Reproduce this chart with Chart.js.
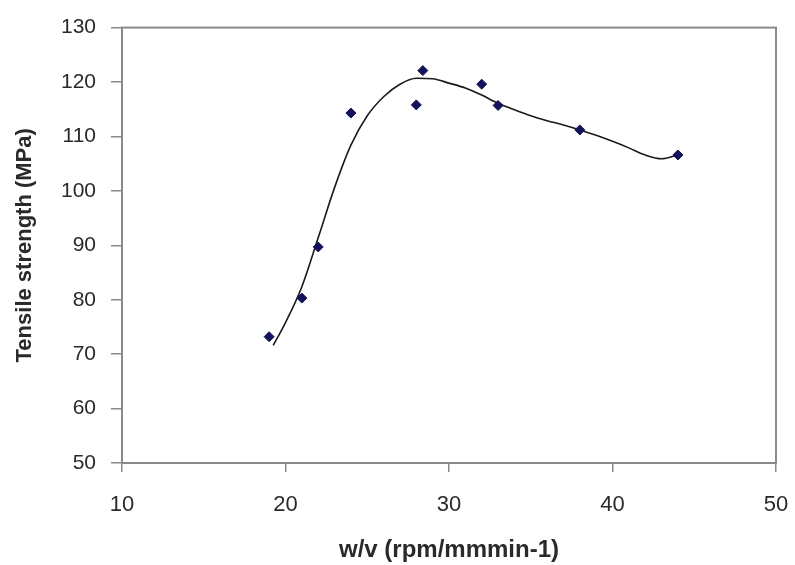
<!DOCTYPE html>
<html>
<head>
<meta charset="utf-8">
<script src="https://cdn.jsdelivr.net/npm/chart.js@4/dist/chart.umd.min.js"></script>
<style>
  html, body { margin: 0; padding: 0; background: #fff; }
  #chart { display: block; }
</style>
</head>
<body>
<canvas id="chart" width="795" height="565"></canvas>
<script>
// measured points
const speedRatio = [19, 21, 22, 24, 28, 28.4, 32, 33, 38, 44];
const tensile = [73.2, 80.3, 89.7, 114.3, 115.8, 122.1, 119.6, 115.7, 111.2, 106.6];

// smoothed trend line
const fitX = [19.25, 20, 21, 22, 23, 24, 25, 26, 27, 28, 29, 30, 31, 32, 33, 34, 35, 36, 37, 38, 39, 40, 41, 42, 43, 44];
const fitY = [71.6, 75.8, 82.4, 91.4, 100.6, 108.4, 113.8, 117.3, 119.6, 120.7, 120.6, 119.8, 118.9, 117.6, 116.1, 114.9, 113.8, 112.9, 112.1, 111.2, 110.2, 109.1, 107.9, 106.6, 105.9, 106.6];

const xTicks = [10, 20, 30, 40, 50];
const yTicks = [50, 60, 70, 80, 90, 100, 110, 120, 130];

const xTitle = "w/v (rpm/mmmin-1)";
const yTitle = "Tensile strength (MPa)";

const axisGray = "#8a8a8a";
const textColor = "#2a2a2a";

// box round the plot area (top and right sides too)
const frame = {
    id: "frame",
    afterDatasetsDraw(chart) {
        const { ctx, chartArea: a } = chart;
        ctx.save();
        ctx.strokeStyle = axisGray;
        ctx.lineWidth = 2;
        ctx.strokeRect(a.left, a.top, a.right - a.left, a.bottom - a.top);
        ctx.restore();
    }
};

const ctx = document.getElementById("chart");
const chart = new Chart(ctx, {
    type: "scatter",
    data: {
        datasets: [
            {
                label: "fit",
                data: fitX.map((x, i) => ({ x, y: fitY[i] })),
                showLine: true,
                borderColor: "#1a1a1a",
                borderWidth: 1.6,
                cubicInterpolationMode: "monotone",
                pointRadius: 0,
                order: 2,
            },
            {
                label: "Tensile strength",
                data: speedRatio.map((x, i) => ({ x, y: tensile[i] })),
                pointStyle: "rectRot",
                pointRadius: 5,
                backgroundColor: "#12125e",
                borderColor: "#12125e",
                borderWidth: 1,
                order: 1,
            }
        ]
    },
    options: {
        responsive: false,
        animation: false,
        devicePixelRatio: 1,
        layout: { padding: { left: 0, right: 0, top: 24, bottom: 0 } },
        plugins: {
            legend: { display: false },
            tooltip: { enabled: false },
        },
        scales: {
            x: {
                type: "linear",
                min: 10,
                max: 50,
                afterBuildTicks: (axis) => { axis.ticks = xTicks.map(v => ({ value: v })); },
                afterFit: (axis) => {
                    axis.height = 102;
                    axis.paddingRight = 19;
                    axis.paddingLeft = 0;
                },
                border: { display: true, color: axisGray, width: 2 },
                grid: { drawOnChartArea: false, drawTicks: true, tickLength: 9, color: axisGray, lineWidth: 1.5 },
                ticks: {
                    color: textColor,
                    padding: 20,
                    maxRotation: 0,
                    font: { family: "'Liberation Sans', Arial, sans-serif", size: 22 },
                },
                title: {
                    display: true,
                    text: xTitle,
                    color: textColor,
                    padding: { top: 0, bottom: 0 },
                    font: { family: "'Liberation Sans', Arial, sans-serif", size: 24, weight: "bold" },
                },
            },
            y: {
                type: "linear",
                min: 50,
                max: 130,
                afterBuildTicks: (axis) => { axis.ticks = yTicks.map(v => ({ value: v })); },
                afterFit: (axis) => { axis.width = 122; },
                border: { display: true, color: axisGray, width: 2 },
                grid: { drawOnChartArea: false, drawTicks: true, tickLength: 11, color: axisGray, lineWidth: 1.5 },
                ticks: {
                    color: textColor,
                    padding: 15,
                    font: { family: "'Liberation Sans', Arial, sans-serif", size: 21 },
                },
                title: {
                    display: true,
                    text: yTitle,
                    color: textColor,
                    padding: { top: 12, bottom: 0 },
                    font: { family: "'Liberation Sans', Arial, sans-serif", size: 22, weight: "bold" },
                },
            }
        }
    },
    plugins: [frame]
});
</script>
</body>
</html>
